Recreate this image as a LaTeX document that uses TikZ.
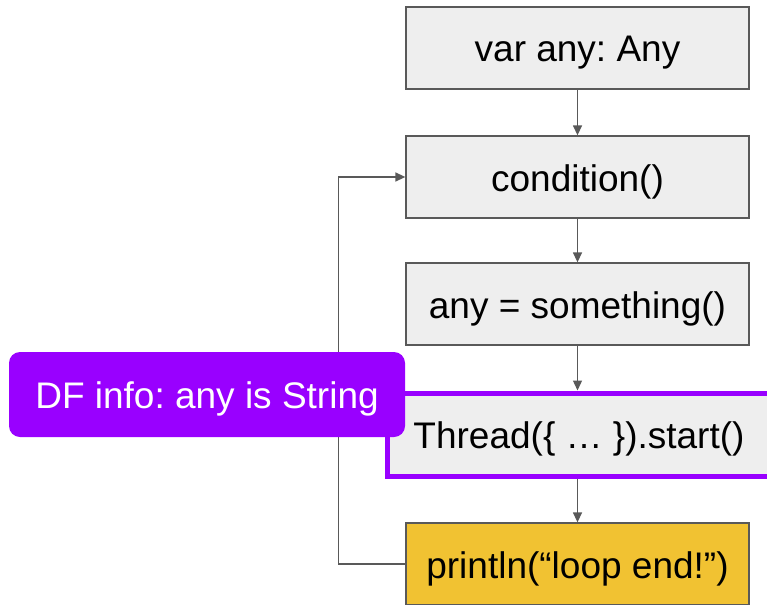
\documentclass[tikz,border=0pt]{standalone}
\usepackage{fontspec}
\setmainfont{Liberation Sans}
\usetikzlibrary{arrows.meta,calc}
\definecolor{boxfill}{HTML}{EEEEEE}
\definecolor{boxline}{HTML}{595959}
\definecolor{dfpurple}{HTML}{9900FF}
\definecolor{yell}{HTML}{F1C232}
\frenchspacing
\tikzset{
  bigtext/.style={font=\fontsize{37}{40}\selectfont, text height=28pt, text depth=0pt},
  flowbox/.style={draw=boxline, line width=1.3pt, fill=boxfill, minimum width=343pt, minimum height=82pt, inner sep=0pt, bigtext},
  flowarrow/.style={draw=boxline, line width=1.4pt, -{Triangle[length=10pt,width=9pt]}},
}
\begin{document}
\begin{tikzpicture}[x=1pt,y=-1pt]
\useasboundingbox (0,0) rectangle (767,604);
\clip (0,0) rectangle (767,604);
\node[flowbox] (decl) at (577.5,48) {var any: Any};
\node[flowbox] (cond) at (577.5,177) {condition()};
\node[flowbox] (assign) at (577.5,304) {any = something()};
\node[flowbox, fill=yell] (print) at (577.5,564) {println(“loop end!”)};
\node[flowbox, draw=dfpurple, line width=5pt, minimum width=383pt, minimum height=83pt] (thread) at (579,434.5) {Thread(\{ … \}).start()};
\draw[flowarrow] (decl.south) -- (cond.north);
\draw[flowarrow] (cond.south) -- (assign.north);
\draw[flowarrow] (assign.south) -- (assign.south |- thread.north);
\draw[flowarrow] (thread.south -| print.north) -- (print.north);
\draw[flowarrow] (print.west) -- ++(-67,0) |- (cond.west);
\node[fill=dfpurple, rounded corners=11pt, minimum width=396pt, minimum height=85pt, inner sep=0pt, text=white, bigtext] (df) at (207,394.5) {DF info: any is String};
\end{tikzpicture}
\end{document}
